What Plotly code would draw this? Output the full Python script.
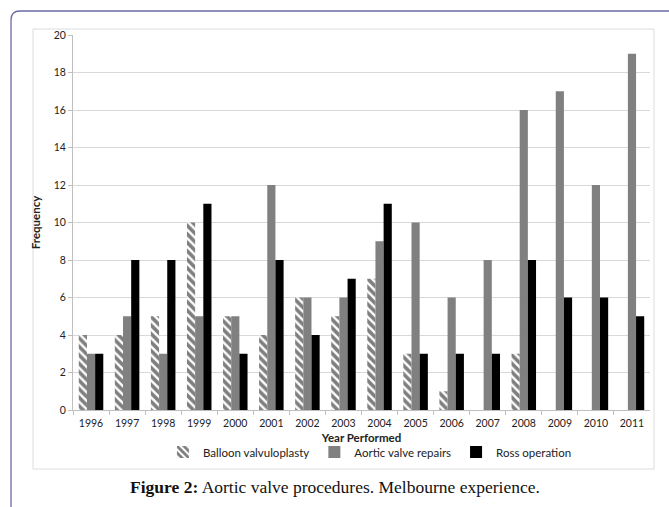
import plotly.graph_objects as go

years = ["1996", "1997", "1998", "1999", "2000", "2001", "2002", "2003",
         "2004", "2005", "2006", "2007", "2008", "2009", "2010", "2011"]
balloon = [4, 4, 5, 10, 5, 4, 6, 5, 7, 3, 1, 0, 3, 0, 0, 0]
repairs = [3, 5, 3, 5, 5, 12, 6, 6, 9, 10, 6, 8, 16, 17, 12, 19]
ross = [3, 8, 8, 11, 3, 8, 4, 7, 11, 3, 3, 3, 8, 6, 6, 5]
yticks = [0, 2, 4, 6, 8, 10, 12, 14, 16, 18, 20]

W, H = 669, 507
fig = go.Figure()
fig.add_trace(go.Bar(
    x=years, y=balloon, name="Balloon valvuloplasty",
    marker=dict(color="white", line=dict(width=0),
                pattern=dict(shape="\\", fgcolor="black", bgcolor="white",
                             size=6, solidity=0.6, fillmode="overlay")),
))
fig.add_trace(go.Bar(x=years, y=repairs, name="Aortic valve repairs",
                     marker=dict(color="#808080", line=dict(width=0))))
fig.add_trace(go.Bar(x=years, y=ross, name="Ross operation",
                     marker=dict(color="#000000", line=dict(width=0))))

tickfont = dict(family="Lato, Open Sans, sans-serif", size=10.5, color="#222")

fig.update_layout(
    width=W, height=H,
    margin=dict(l=0, r=0, t=0, b=0, autoexpand=False),
    paper_bgcolor="white", plot_bgcolor="white",
    barmode="group", bargap=0.32, bargroupgap=0,
    showlegend=True,
    legend=dict(orientation="h", x=0.553, xanchor="center", y=1 - 452 / H,
                yanchor="middle", font=dict(family="Lato, Open Sans, sans-serif",
                                            size=11.5, color="#222"),
                itemwidth=30, bgcolor="rgba(0,0,0,0)", tracegroupgap=0),
    xaxis=dict(domain=[73 / W, 650 / W], type="category", automargin=False,
               showline=True, linecolor="#bfbfbf", linewidth=1,
               ticks="outside", tickson="boundaries", ticklen=4, tickcolor="#bfbfbf",
               tickfont=tickfont, showgrid=False, ticklabelstandoff=3,
               title=dict(text="<b>Year Performed</b>", standoff=6,
                          font=dict(family="Lato, Open Sans, sans-serif", size=11.5, color="#222"))),
    yaxis=dict(domain=[1 - 410 / H, 1 - 35 / H], range=[0, 20], automargin=False,
               tickvals=yticks, ticktext=[str(v) for v in yticks],
               showline=True, linecolor="#bfbfbf", linewidth=1,
               ticks="outside", ticklen=4, tickcolor="#bfbfbf",
               showgrid=True, gridcolor="#d9d9d9", gridwidth=1,
               zeroline=False, tickfont=tickfont,
               title=dict(text="<b>Frequency</b>", standoff=10,
                          font=dict(family="Lato, Open Sans, sans-serif", size=11.5, color="#222"))),
)

# outer rounded frame (purple)
r = 9
fig.add_shape(type="path", xref="paper", yref="paper",
              path=f"M {11/W} 0 L {11/W} {1-(11+r)/H} Q {11/W} {1-11/H} {(11+r)/W} {1-11/H} L 1.01 {1-11/H}",
              line=dict(color="#6b6ba6", width=1.3))
# inner chart box
fig.add_shape(type="rect", xref="paper", yref="paper",
              x0=33 / W, x1=654 / W, y0=1 - 469 / H, y1=1 - 29 / H,
              line=dict(color="#dcdcdc", width=1), fillcolor="rgba(0,0,0,0)", layer="below")

fig.add_annotation(xref="paper", yref="paper", x=335 / W, y=1 - 487 / H,
                   text="<b>Figure 2:</b> Aortic valve procedures. Melbourne experience.",
                   showarrow=False, xanchor="center", yanchor="middle",
                   font=dict(family="Liberation Serif, Times New Roman, serif", size=17.5, color="#111"))

fig.write_html("out.html", config={"displayModeBar": False},
               post_script="document.body.style.margin='0';document.body.style.overflow='hidden';")
